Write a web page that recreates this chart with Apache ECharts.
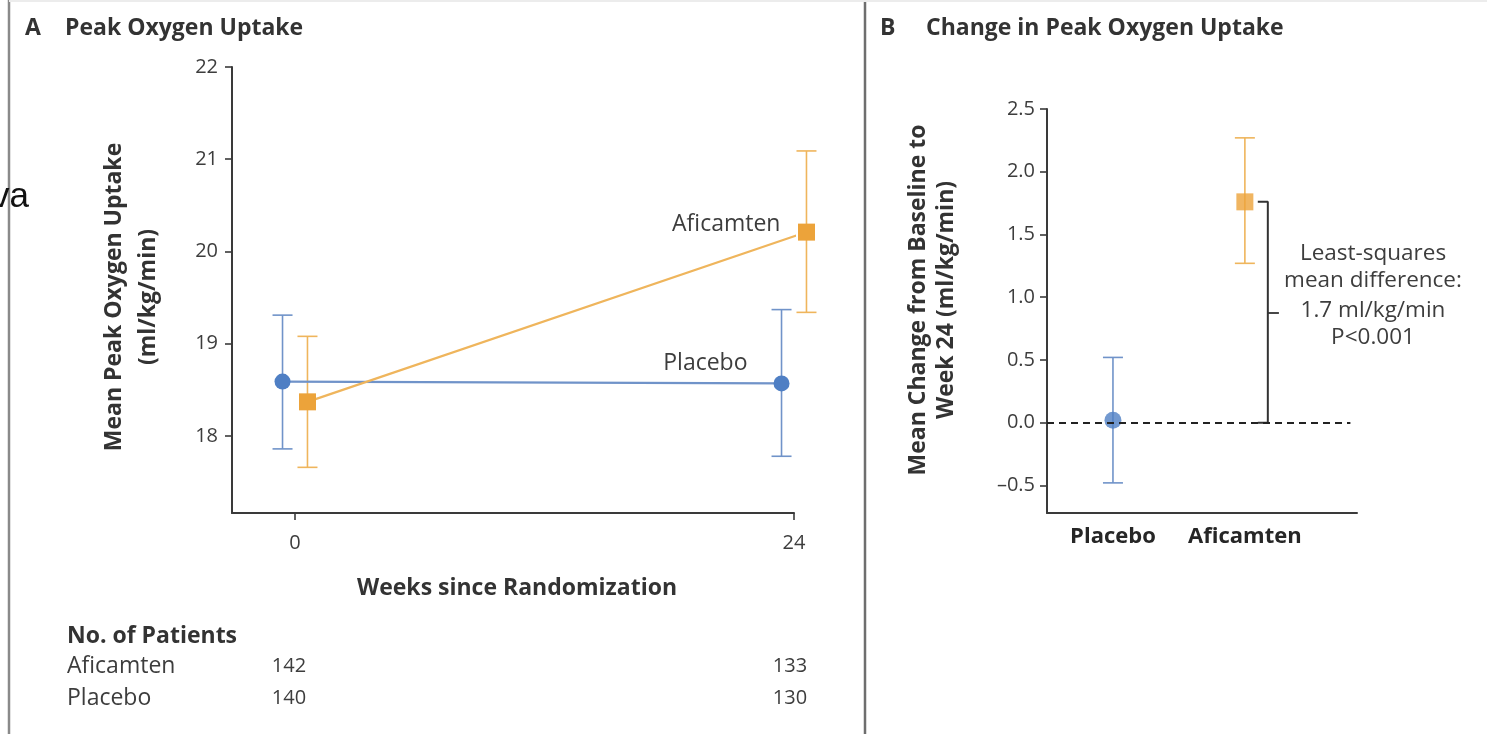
<!DOCTYPE html>
<html>
<head>
<meta charset="utf-8">
<script src="https://cdn.jsdelivr.net/npm/echarts@6/dist/echarts.min.js"></script>
<style>
  html, body { margin: 0; padding: 0; background: #fff; }
  #main { width: 1487px; height: 734px; }
</style>
</head>
<body>
<div id="main"></div>
<script>
// Panel A: mean peak oxygen uptake (ml/kg/min) with 95% CI at each visit
const weeks = [0, 24];
const placeboMean = [18.59, 18.57];
const placeboLow = [17.86, 17.78];
const placeboHigh = [19.31, 19.37];
const aficamtenMean = [18.37, 20.21];
const aficamtenLow = [17.66, 19.34];
const aficamtenHigh = [19.08, 21.09];
const uptakeTicks = [18, 19, 20, 21, 22];

// Patients at risk at each visit
const patientsAficamten = [142, 133];
const patientsPlacebo = [140, 130];

// Panel B: change from baseline to week 24 with 95% CI
const groups = ['Placebo', 'Aficamten'];
const changeMean = [0.02, 1.76];
const changeLow = [-0.48, 1.27];
const changeHigh = [0.52, 2.27];
const changeTicks = [-0.5, 0, 0.5, 1, 1.5, 2, 2.5];
const diffLines = ['Least-squares', 'mean difference:', '1.7 ml/kg/min', 'P<0.001'];

const FONT = '"Open Sans"';
const AXIS = '#3a3a3a';
const TEXT = '#3d3d3d';
const HEAD = '#333';
const BLUE = '#4f7fc4';
const BLUE_LINE = '#7093c9';
const ORANGE = '#eca33a';
const ORANGE_LINE = '#efb55c';
const DODGE = 0.6;          // horizontal offset (weeks) so the two groups do not overlap
const groupPos = groups.map((g, i) => i + 1);

const chart = echarts.init(document.getElementById('main'), null, { renderer: 'canvas' });

function errorBars(color) {
  return function (params, api) {
    const x = api.value(0);
    const lo = api.coord([x, api.value(1)]);
    const hi = api.coord([x, api.value(2)]);
    const cap = 10;
    const style = { stroke: color, lineWidth: 1.6, fill: null };
    return {
      type: 'group',
      children: [
        { type: 'line', shape: { x1: lo[0], y1: lo[1], x2: hi[0], y2: hi[1] }, style },
        { type: 'line', shape: { x1: lo[0] - cap, y1: lo[1], x2: lo[0] + cap, y2: lo[1] }, style },
        { type: 'line', shape: { x1: hi[0] - cap, y1: hi[1], x2: hi[0] + cap, y2: hi[1] }, style }
      ]
    };
  };
}

const axisLineStyle = { onZero: false, lineStyle: { color: AXIS, width: 2 } };
const tickStyle = { length: 7, lineStyle: { color: AXIS, width: 1.6 } };
const tickLabel = { color: TEXT, fontFamily: FONT, fontSize: 20 };

const placeboPts = weeks.map((w, i) => [w - DODGE, placeboMean[i]]);
const aficamtenPts = weeks.map((w, i) => [w + DODGE, aficamtenMean[i]]);
const placeboErr = weeks.map((w, i) => [w - DODGE, placeboLow[i], placeboHigh[i]]);
const aficamtenErr = weeks.map((w, i) => [w + DODGE, aficamtenLow[i], aficamtenHigh[i]]);

const bracketX = groupPos[1] + 0.174;
const bracketLeft = groupPos[1] + 0.098;
const bracketMid = (changeMean[1] + 0) / 2;

chart.setOption({
  animation: false,
  backgroundColor: '#fff',
  grid: [
    { left: 232, top: 67, width: 562, height: 446 },
    { left: 1047, top: 109, width: 310, height: 404 }
  ],
  xAxis: [
    {
      gridIndex: 0, type: 'value', min: -3.03, max: 24,
      axisLine: axisLineStyle,
      axisTick: Object.assign({ customValues: weeks }, tickStyle),
      axisLabel: Object.assign({ customValues: weeks, margin: 20 }, tickLabel),
      splitLine: { show: false }
    },
    {
      gridIndex: 1, type: 'value', min: 0.5, max: 2.85,
      axisLine: axisLineStyle,
      axisTick: { show: false },
      axisLabel: {
        customValues: groupPos, margin: 13,
        formatter: v => groups[Math.round(v) - 1],
        color: '#262626', fontFamily: FONT, fontSize: 22, fontWeight: 'bold'
      },
      splitLine: { show: false }
    }
  ],
  yAxis: [
    {
      gridIndex: 0, type: 'value', min: 17.165, max: 22,
      axisLine: axisLineStyle,
      axisTick: Object.assign({ customValues: uptakeTicks }, tickStyle),
      axisLabel: Object.assign({ customValues: uptakeTicks, margin: 14 }, tickLabel),
      splitLine: { show: false }
    },
    {
      gridIndex: 1, type: 'value', min: -0.72, max: 2.5,
      axisLine: axisLineStyle,
      axisTick: Object.assign({ customValues: changeTicks }, tickStyle),
      axisLabel: Object.assign({
        customValues: changeTicks, margin: 12,
        formatter: v => (v < 0 ? '\u2013' : '') + Math.abs(v).toFixed(1)
      }, tickLabel),
      splitLine: { show: false }
    }
  ],
  series: [
    // Panel A
    { type: 'custom', xAxisIndex: 0, yAxisIndex: 0, clip: false, z: 2,
      renderItem: errorBars(BLUE_LINE), data: placeboErr },
    { type: 'custom', xAxisIndex: 0, yAxisIndex: 0, clip: false, z: 2,
      renderItem: errorBars(ORANGE_LINE), data: aficamtenErr },
    { name: 'Placebo', type: 'line', xAxisIndex: 0, yAxisIndex: 0, clip: false, z: 3,
      data: placeboPts, symbol: 'circle', symbolSize: 16,
      lineStyle: { color: BLUE_LINE, width: 2.2 }, itemStyle: { color: BLUE } },
    { name: 'Aficamten', type: 'line', xAxisIndex: 0, yAxisIndex: 0, clip: false, z: 4,
      data: aficamtenPts, symbol: 'rect', symbolSize: 17,
      lineStyle: { color: ORANGE_LINE, width: 2.2 }, itemStyle: { color: ORANGE } },
    // Panel B
    { type: 'custom', xAxisIndex: 1, yAxisIndex: 1, clip: false, z: 2,
      renderItem: errorBars(BLUE_LINE), data: [[groupPos[0], changeLow[0], changeHigh[0]]] },
    { type: 'custom', xAxisIndex: 1, yAxisIndex: 1, clip: false, z: 2,
      renderItem: errorBars(ORANGE_LINE), data: [[groupPos[1], changeLow[1], changeHigh[1]]] },
    { type: 'line', xAxisIndex: 1, yAxisIndex: 1, z: 1,
      data: [[bracketLeft, changeMean[1]], [bracketX, changeMean[1]], [bracketX, 0], [bracketLeft, 0]],
      symbol: 'none', lineStyle: { color: '#333', width: 2 },
      markLine: {
        silent: true, symbol: 'none', label: { show: false },
        lineStyle: { color: '#222', width: 1.8, type: [7, 5] },
        data: [
          [{ coord: [0.5, 0] }, { coord: [2.8, 0] }],
          [{ coord: [bracketX, bracketMid], lineStyle: { type: 'solid', width: 1.8, color: '#333' } },
           { coord: [bracketX + 0.084, bracketMid] }]
        ]
      } },
    { type: 'scatter', xAxisIndex: 1, yAxisIndex: 1, z: 4, clip: false,
      data: [[groupPos[0], changeMean[0]]], symbol: 'circle', symbolSize: 17,
      itemStyle: { color: BLUE } },
    { type: 'scatter', xAxisIndex: 1, yAxisIndex: 1, z: 4, clip: false,
      data: [[groupPos[1], changeMean[1]]], symbol: 'rect', symbolSize: 17,
      itemStyle: { color: ORANGE } }
  ]
});

// Text annotations placed relative to the axes
const pA = (pt) => chart.convertToPixel({ xAxisIndex: 0, yAxisIndex: 0 }, pt);
const endAfi = pA(aficamtenPts[1]);
const endPla = pA(placeboPts[1]);
const tick0 = pA([weeks[0], 18])[0];
const tick24 = pA([weeks[1], 18])[0];

const txt = (x, y, text, extra) => ({
  type: 'text', x, y, silent: true,
  style: Object.assign({ text, fontFamily: FONT, fontSize: 22, fill: TEXT,
    align: 'left', verticalAlign: 'middle' }, extra || {})
});
const bold = (size) => ({ fontWeight: 'bold', fontSize: size, fill: HEAD });

const yTitleA = txt(131, 297, 'Mean Peak Oxygen Uptake\n(ml/kg/min)',
  Object.assign(bold(23), { align: 'center', lineHeight: 34 }));
const yTitleB = txt(932, 300, 'Mean Change from Baseline to\nWeek 24 (ml/kg/min)',
  Object.assign(bold(23), { align: 'center', lineHeight: 28 }));
// rotate the y-axis titles so they read bottom-to-top
yTitleA.rotation = Math.PI / 2;
yTitleB.rotation = Math.PI / 2;

const graphic = [
  // frame lines
  { type: 'line', shape: { x1: 9, y1: 0, x2: 9, y2: 734 }, style: { stroke: '#8a8a8a', lineWidth: 2.5 } },
  { type: 'line', shape: { x1: 865, y1: 0, x2: 865, y2: 734 }, style: { stroke: '#6e6e6e', lineWidth: 2.5 } },
  { type: 'line', shape: { x1: 9, y1: 1, x2: 1487, y2: 1 }, style: { stroke: '#ececec', lineWidth: 2 } },
  txt(-8, 197, 'va', { fontFamily: 'Liberation Sans', fontSize: 35, fill: '#111' }),

  // panel titles
  txt(25, 28, 'A', bold(23)),
  txt(65, 28, 'Peak Oxygen Uptake', bold(23)),
  txt(880, 28, 'B', bold(23)),
  txt(926, 28, 'Change in Peak Oxygen Uptake', bold(23)),

  // axis titles
  yTitleA,
  yTitleB,
  txt(517, 588, 'Weeks since Randomization', Object.assign(bold(23), { align: 'center' })),

  // series labels
  txt(endAfi[0] - 26, endAfi[1] - 8, 'Aficamten', { align: 'right', fontSize: 23 }),
  txt(endPla[0] - 34, endPla[1] - 20, 'Placebo', { align: 'right', fontSize: 23 }),

  // patients at risk
  txt(67, 636, 'No. of Patients', bold(23)),
  txt(67, 666, 'Aficamten', { fontSize: 23 }),
  txt(67, 698, 'Placebo', { fontSize: 23 }),
  txt(tick0 - 6, 666, String(patientsAficamten[0]), { fontSize: 20, align: 'center' }),
  txt(tick0 - 6, 698, String(patientsPlacebo[0]), { fontSize: 20, align: 'center' }),
  txt(tick24 - 4, 666, String(patientsAficamten[1]), { fontSize: 20, align: 'center' }),
  txt(tick24 - 4, 698, String(patientsPlacebo[1]), { fontSize: 20, align: 'center' })
];

// least-squares difference annotation beside the bracket
const lineY = [254, 281, 311, 338];
diffLines.forEach((s, i) => graphic.push(txt(1373, lineY[i], s, { align: 'center', fontSize: 22.5 })));

chart.setOption({ graphic });
</script>
</body>
</html>
